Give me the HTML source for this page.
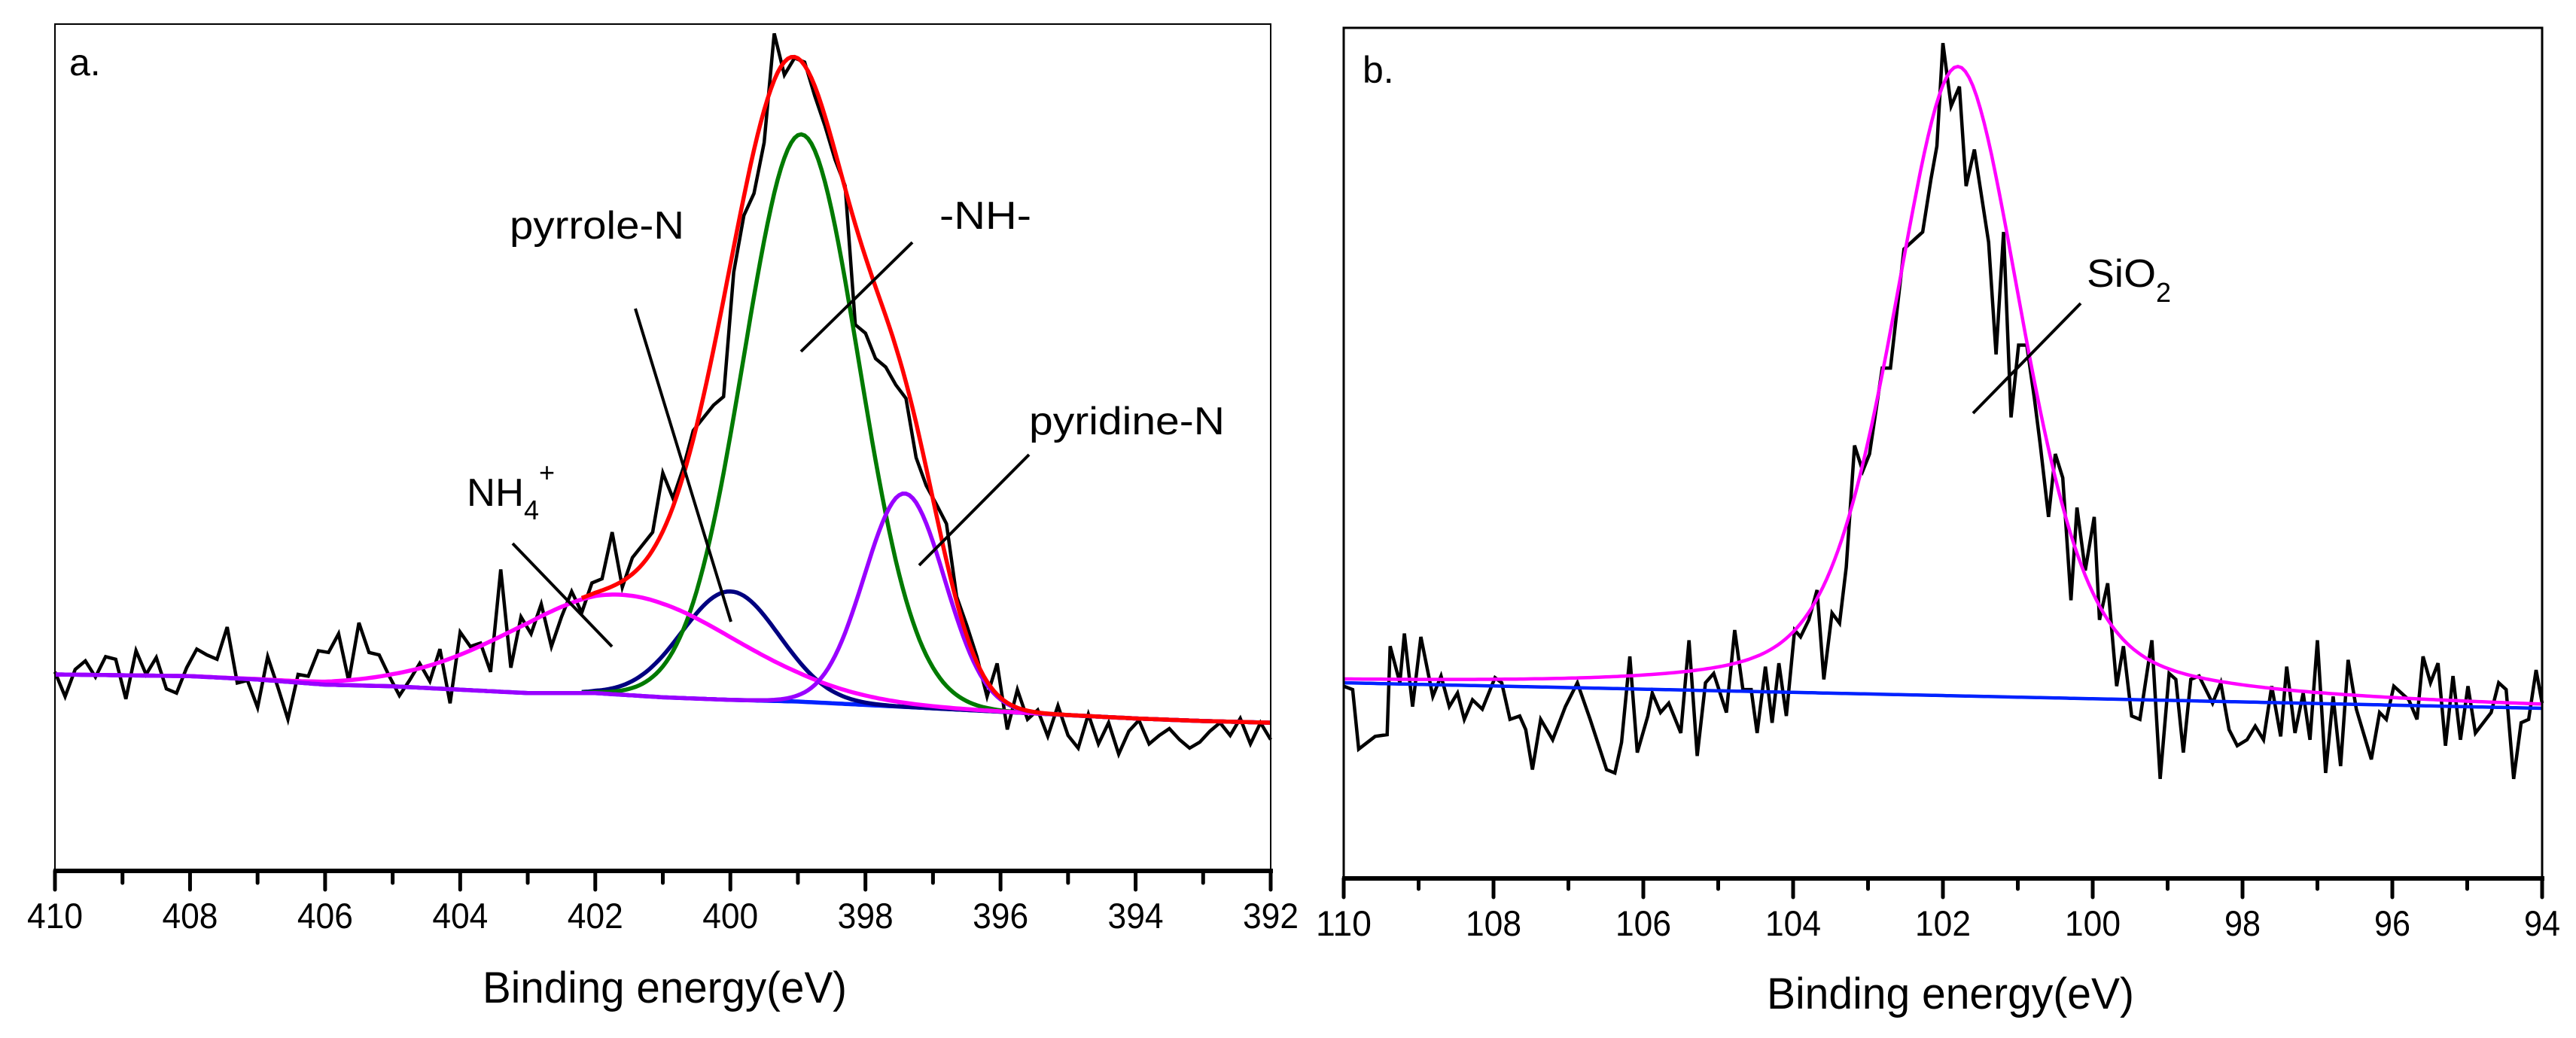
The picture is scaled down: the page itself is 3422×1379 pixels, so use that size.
<!DOCTYPE html>
<html><head><meta charset="utf-8"><style>
html,body{margin:0;padding:0;background:#fff}
svg{display:block}
text{font-family:"Liberation Sans",Arial,sans-serif;fill:#000}
</style></head>
<body>
<svg id="chart" width="3422" height="1379" viewBox="0 0 3422 1379" xmlns="http://www.w3.org/2000/svg">
<rect width="3422" height="1379" fill="#fff"/>
<g id="pa"></g>
<g id="pb"></g>
</svg>
<script>
// ---------- Panel a data (N 1s) ----------
const aTicks = [410,408,406,404,402,400,398,396,394,392];
const aStart = 410, aStep = 0.15;
const aRaw = [23.5,20.6,23.8,24.8,22.9,25.3,25.0,20.3,26.0,23.2,25.2,21.5,21.0,24.0,26.2,25.5,25.0,28.8,22.2,22.5,19.3,25.3,21.7,17.9,23.2,23.0,26.0,
25.8,28.0,22.4,29.3,25.8,25.5,23.0,20.7,22.5,24.5,22.4,26.2,19.8,
28.2,26.5,26.9,23.5,35.6,24.0,30.0,
28.0,31.5,26.5,30.0,33.0,30.5,34.0,34.5,40.0,33.5,
37.0,38.5,40.0,47.0,44.0,47.5,52.0,53.5,55.0,56.0,70.7,
77.4,80,86,98.9,94,96,95.5,91.5,88,84,80.9,64.5,63.5,60.5,59.5,57.4,55.8,48.8,45.5,43.3,41.0,32.4,29.0,25.3,20.6,24.5,16.7,21.4,17.9,19.0,15.9,19.5,16.0,
14.5,18.5,15.0,17.5,13.8,16.5,17.8,15.0,16.0,16.8,15.5,14.5,15.2,16.5,17.5,16.0,18.0,15.0,17.5,15.5];
const aBgE = [410,409,408,407,406,405,404,403,402,401,400,399,398,397,396,395,394,393,392];
const aBgV = [23.2,23.1,23.0,22.6,22.0,21.8,21.4,21.0,21.0,20.5,20.2,20.0,19.6,19.2,18.8,18.4,18.0,17.7,17.5];
const aPeakNames = ["NH4+","pyrrole-N","-NH-","pyridine-N"];
const aCenters = [401.6, 400.0, 398.95, 397.42];
const aHeights = [11.8, 12.8, 67, 25.2];
const aFwhm = [3.9, 1.7, 2.0, 1.4];
// ---------- Panel b data (Si 2p) ----------
const bTicks = [110,108,106,104,102,100,98,96,94];
const bE = [110.00,109.88,109.80,109.58,109.42,109.38,109.25,109.19,109.08,108.97,108.81,108.70,108.59,108.48,108.39,108.28,108.15,107.98,107.89,107.78,107.65,107.57,107.48,107.37,107.21,107.04,106.88,106.71,106.49,106.38,106.29,106.18,106.08,105.94,105.88,105.77,105.66,105.50,105.39,105.28,105.17,105.06,104.89,104.78,104.67,104.56,104.48,104.37,104.28,104.19,104.09,103.98,103.90,103.79,103.68,103.59,103.48,103.38,103.29,103.18,103.07,102.98,102.81,102.70,102.52,102.37,102.27,102.16,102.08,102.00,101.89,101.78,101.69,101.58,101.39,101.29,101.19,101.09,100.99,100.88,100.78,100.70,100.59,100.50,100.40,100.29,100.21,100.10,99.98,99.91,99.80,99.68,99.59,99.48,99.37,99.21,99.10,98.98,98.89,98.79,98.69,98.58,98.40,98.29,98.18,98.07,97.94,97.83,97.72,97.61,97.49,97.41,97.30,97.19,97.10,97.00,96.89,96.79,96.69,96.59,96.48,96.28,96.17,96.08,95.98,95.78,95.67,95.59,95.49,95.39,95.29,95.19,95.09,94.99,94.89,94.68,94.58,94.48,94.38,94.28,94.18,94.08,94.00];
const bI = [22.6,22.2,15.2,16.7,16.9,27.3,23.0,28.8,20.2,28.4,21.4,23.8,20.2,21.8,18.7,21.0,19.9,23.6,23.0,18.7,19.1,17.5,12.8,18.7,16.3,20.2,23.0,18.7,12.8,12.4,16.0,26.1,14.8,19.1,21.8,19.5,20.6,17.1,28.0,14.4,23.0,24.1,19.5,29.2,22.2,22.2,17.1,24.9,18.3,25.3,19.1,29.2,28.4,30.4,33.9,23.4,31.2,30.0,36.6,50.9,47.9,49.9,60.0,60.0,74.0,75.2,76.0,82.2,86.1,98.2,90.8,93.1,81.4,85.7,74.8,61.6,76.0,54.2,62.7,62.7,56.5,51.0,42.5,49.9,47.1,32.7,43.6,36.2,42.5,30.4,34.7,22.6,27.3,19.1,18.7,28.0,11.7,24.1,23.4,14.8,23.4,23.8,20.6,23.0,17.5,15.6,16.3,17.9,16.3,22.6,16.7,24.9,17.1,21.8,16.3,28.0,12.4,21.4,13.2,25.7,19.9,14.0,19.5,18.7,22.6,21.0,18.7,26.1,23.0,25.3,15.6,23.8,16.3,22.6,17.1,19.5,23.0,22.2,11.7,18.3,18.7,24.5,20.6];
const bBgE = [110, 94];
const bBgV = [23.0, 20.0];
const bCenter = [101.8], bHeight = [74], bFwhm = [2.05], bMix = [0.4];

const NS = "http://www.w3.org/2000/svg";
function el(parent, tag, attrs){const e=document.createElementNS(NS,tag);for(const k in attrs)e.setAttribute(k,attrs[k]);parent.appendChild(e);return e;}
function xA(e){return 73+(410-e)*(1688-73)/18;}
function yA(v){return 1157-v*11.25;}
function xB(e){return 1785+(110-e)*(3377-1785)/16;}
function yB(v){return 1167-v*11.3;}
function interp(xs,ys,x){for(let i=0;i<xs.length-1;i++){const a=xs[i],b=xs[i+1];if((x<=a&&x>=b)||(x>=a&&x<=b)){const t=(x-a)/(b-a);return ys[i]+t*(ys[i+1]-ys[i]);}}return x>xs[0]?ys[0]:ys[ys.length-1];}
function gauss(e,c,h,w){return h*Math.exp(-4*Math.LN2*(e-c)*(e-c)/(w*w));}
function pathD(pts){return pts.map((p,i)=>(i?"L":"M")+p[0].toFixed(1)+","+p[1].toFixed(1)).join("");}
function tickLabel(g,x,y,v,name){const t=el(g,"text",{x:x,y:y,"font-size":47,"text-anchor":"middle",textLength:(String(v).length>2?74:48),lengthAdjust:"spacingAndGlyphs"});t.textContent=v;

}

// ---------- Panel a ----------
const pa=document.getElementById("pa");
function bgAat(e){return interp(aBgE,aBgV,e);}
function compA(i,e){return gauss(e,aCenters[i],aHeights[i],aFwhm[i]);}
const rawPts=aRaw.map((v,i)=>[xA(aStart-i*aStep),yA(v)]);
let p=el(pa,"path",{d:pathD(rawPts),fill:"none",stroke:"#000","stroke-width":4.5,"stroke-linejoin":"miter"});


function curveA(fn,from,to,color,name){const pts=[];for(let e=from;e>=to-1e-9;e-=0.05)pts.push([xA(e),yA(fn(e))]);const q=el(pa,"path",{d:pathD(pts),fill:"none",stroke:color,"stroke-width":5.5});}
curveA(e=>bgAat(e),410,392,"#0022ff","background-a");
curveA(e=>bgAat(e)+compA(1,e),402.2,392,"#000080","pyrrole-n-peak");
curveA(e=>bgAat(e)+compA(2,e),402.2,392,"#007a00","nh-peak");
curveA(e=>bgAat(e)+compA(0,e),410,392,"#ff00ff","nh4-peak");
curveA(e=>bgAat(e)+compA(3,e),410,392,"#9900ff","pyridine-n-peak");
curveA(e=>bgAat(e)+compA(0,e)+compA(1,e)+compA(2,e)+compA(3,e),402.2,392,"#ff0000","fit-envelope-a");
p=el(pa,"rect",{x:73,y:32,width:1615,height:1125,fill:"none",stroke:"#000","stroke-width":2});


p=el(pa,"line",{x1:71,y1:1157,x2:1691,y2:1157,stroke:"#000","stroke-width":6});


for(let e=410;e>=392;e--){const major=(e%2===0);const t=el(pa,"line",{x1:xA(e),y1:1157,x2:xA(e),y2:1157+(major?25:16),stroke:"#000","stroke-width":5,"stroke-linecap":"round"});

}
aTicks.forEach(v=>tickLabel(pa,xA(v),1233,v,'x-tick-label-a'));
</script>
<script>
(function(){
const pa=document.getElementById("pa");
const html=`
<text x="883" y="1332" font-size="58" text-anchor="middle" textLength="484" lengthAdjust="spacingAndGlyphs">Binding energy(eV)</text>
<text x="92" y="100" font-size="50">a.</text>
<text x="677" y="317" font-size="52" textLength="232" lengthAdjust="spacingAndGlyphs">pyrrole-N</text>
<line x1="844" y1="410" x2="971" y2="826" stroke="#000" stroke-width="4"/>
<text x="1248" y="304" font-size="52" textLength="122" lengthAdjust="spacingAndGlyphs">-NH-</text>
<line x1="1212" y1="322" x2="1064" y2="467" stroke="#000" stroke-width="4"/>
<text x="1367" y="577" font-size="52" textLength="260" lengthAdjust="spacingAndGlyphs">pyridine-N</text>
<line x1="1367" y1="604" x2="1221" y2="751" stroke="#000" stroke-width="4"/>
<text x="620" y="672" font-size="52"><tspan textLength="76" lengthAdjust="spacingAndGlyphs">NH</tspan><tspan font-size="36" dy="18">4</tspan><tspan font-size="36" dy="-50">+</tspan></text>
<line x1="681" y1="722" x2="813" y2="859" stroke="#000" stroke-width="4"/>`;
pa.insertAdjacentHTML("beforeend",html);
})();
</script>
<script>
// ---------- Panel b ----------
const pb=document.getElementById("pb");
function bgBat(e){return interp(bBgE,bBgV,e);}
function glB(e){const d=e-bCenter[0],w=bFwhm[0];const G=Math.exp(-4*Math.LN2*d*d/(w*w));const L=1/(1+4*d*d/(w*w));return bHeight[0]*((1-bMix[0])*G+bMix[0]*L);}
let q=el(pb,"path",{d:pathD(bE.map((e,i)=>[xB(e),yB(bI[i])])),fill:"none",stroke:"#000","stroke-width":4.5});


function curveB(fn,color,name){const pts=[];for(let e=110;e>=94-1e-9;e-=0.05)pts.push([xB(e),yB(fn(e))]);const r=el(pb,"path",{d:pathD(pts),fill:"none",stroke:color,"stroke-width":4.5});}
curveB(e=>bgBat(e),"#0022ff","background-b");
curveB(e=>bgBat(e)+glB(e),"#ff00ff","sio2-peak");
q=el(pb,"rect",{x:1785,y:37,width:1592,height:1130,fill:"none",stroke:"#000","stroke-width":3});


q=el(pb,"line",{x1:1783,y1:1167,x2:3380,y2:1167,stroke:"#000","stroke-width":6});


for(let e=110;e>=94;e--){const major=(e%2===0);const t=el(pb,"line",{x1:xB(e),y1:1167,x2:xB(e),y2:1167+(major?25:14),stroke:"#000","stroke-width":5,"stroke-linecap":"round"});

}
bTicks.forEach(v=>tickLabel(pb,xB(v),1243,v,'x-tick-label-b'));
pb.insertAdjacentHTML("beforeend",`
<text x="2591" y="1340" font-size="58" text-anchor="middle" textLength="488" lengthAdjust="spacingAndGlyphs">Binding energy(eV)</text>
<text x="1810" y="110" font-size="50">b.</text>
<text x="2772" y="381" font-size="52"><tspan textLength="92" lengthAdjust="spacingAndGlyphs">SiO</tspan><tspan font-size="36" dy="20">2</tspan></text>
<line x1="2764" y1="403" x2="2621" y2="549" stroke="#000" stroke-width="4"/>`);
</script>
</body></html>
